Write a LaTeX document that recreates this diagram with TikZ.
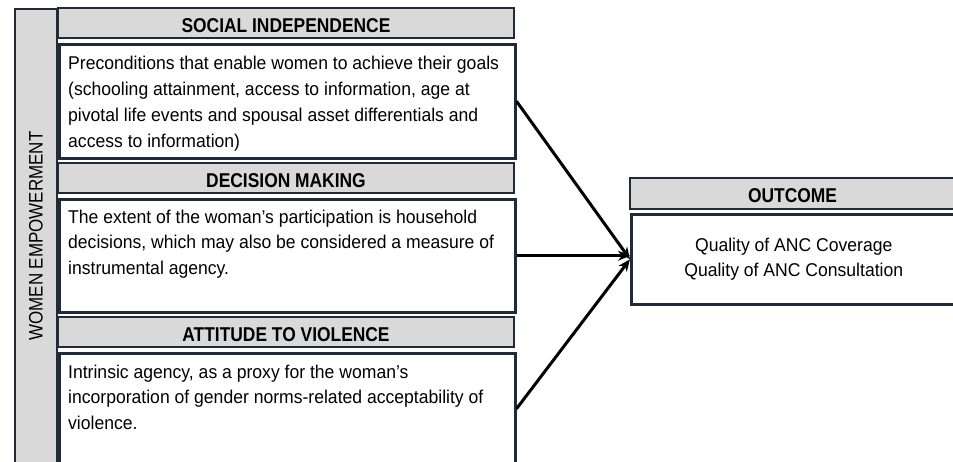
\documentclass[tikz,border=0pt]{standalone}
\usepackage{fontspec}
\setmainfont{Liberation Sans}
\newfontfamily\headfont[FakeStretch=0.87]{Liberation Sans}
\newfontfamily\bodyfont[FakeStretch=0.95]{Liberation Sans}
\usetikzlibrary{arrows.meta}
\definecolor{framecol}{RGB}{34,42,56}
\definecolor{headgray}{RGB}{217,217,217}
\tikzset{
        headbox/.style={draw=framecol,line width=2.5pt,fill=headgray,minimum width=456pt,minimum height=30pt,inner sep=0pt,text height=18pt,text depth=0pt,font=\headfont\bfseries\fontsize{20}{22}\selectfont},
        bodybox/.style={draw=framecol,line width=2.5pt,fill=white,minimum width=456pt,anchor=north west,inner sep=0pt},
        bodytext/.style={anchor=base west,align=left,inner sep=0pt,font=\bodyfont\fontsize{18.5}{25.7}\selectfont},
        link/.style={line width=3pt,-{Stealth[length=12pt,width=10pt]}}
}

\begin{document}
\begin{tikzpicture}[x=1pt,y=-1pt]
        \clip (0,0) rectangle (953,461);
        \fill[white] (0,0) rectangle (953,461);
        \node[draw=framecol,line width=2.5pt,fill=headgray,minimum width=42pt,minimum height=454pt,inner sep=0pt] (webar) at (36,236) {};
        \node[rotate=90,font=\headfont\fontsize{19.5}{22}\selectfont] (wetext) at (36,236) {WOMEN EMPOWERMENT};
        \node[headbox] (sihead) at (286,23) {SOCIAL INDEPENDENCE};
        \node[bodybox,minimum height=114pt] (sibox) at (58,43) {};
        \node[bodytext] (sitext) at (68,147) {Preconditions that enable women to achieve their goals\\(schooling attainment, access to information, age at\\pivotal life events and spousal asset differentials and\\access to information)};
        \node[headbox] (dmhead) at (286,178) {DECISION MAKING};
        \node[bodybox,minimum height=113pt] (dmbox) at (58,198) {};
        \node[bodytext] (dmtext) at (68,274.5) {The extent of the woman’s participation is household\\decisions, which may also be considered a measure of\\instrumental agency.};
        \node[headbox] (avhead) at (286,332) {ATTITUDE TO VIOLENCE};
        \node[bodybox,minimum height=111pt] (avbox) at (58,352) {};
        \node[bodytext] (avtext) at (68,429.5) {Intrinsic agency, as a proxy for the woman’s\\incorporation of gender norms-related acceptability of\\violence.};
        \node[headbox,minimum width=325pt,minimum height=31pt] (ochead) at (792.5,193.5) {OUTCOME};
        \node[bodybox,minimum width=325pt,minimum height=90pt,align=center,font=\bodyfont\fontsize{18.5}{25}\selectfont] (ocbox) at (630,213) {Quality of ANC Coverage\\Quality of ANC Consultation};
        \draw[link] (sibox.east) -- (ocbox.west);
        \draw[link] (dmbox.east) -- (dmbox.east -| ocbox.west);
        \draw[link] (avbox.east) -- (ocbox.west);
\end{tikzpicture}
\end{document}
